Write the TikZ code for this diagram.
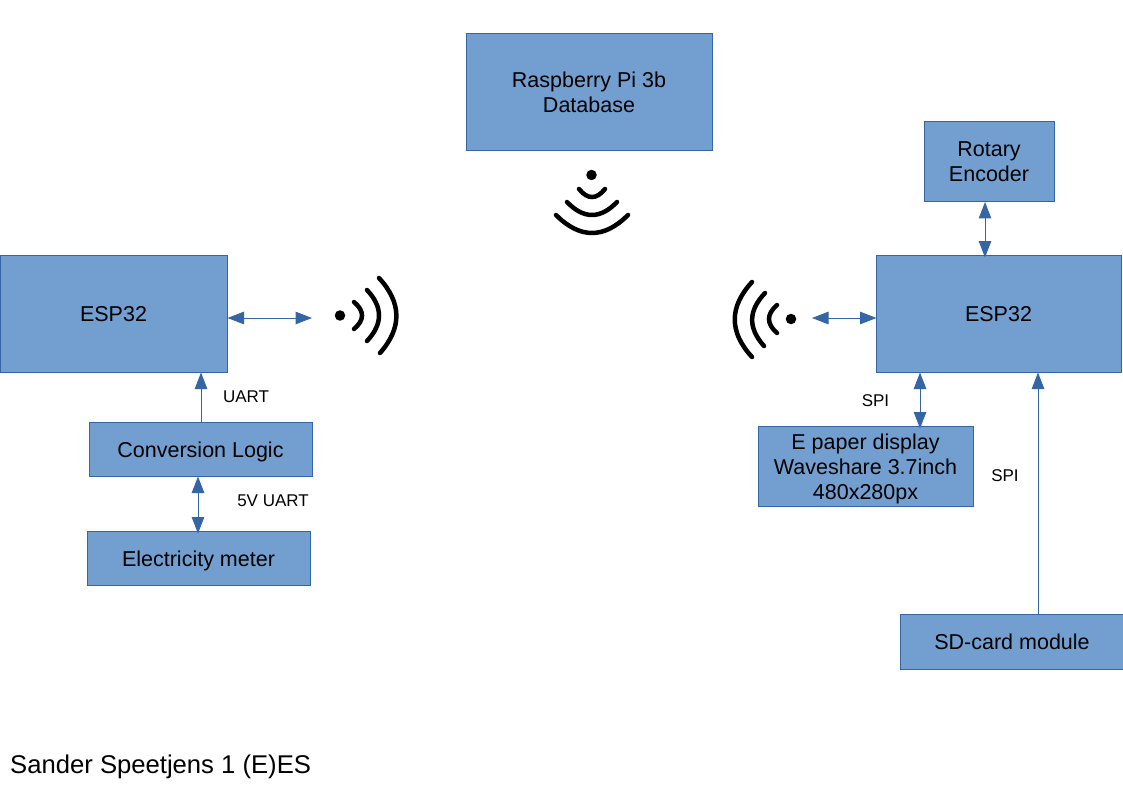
\documentclass[tikz,border=0pt]{standalone}
\usepackage{fontspec}
\setmainfont{Liberation Sans}
\usetikzlibrary{arrows.meta}

\begin{document}
\begin{tikzpicture}[
	x=1pt, y=-1pt,
	blockbox/.style={draw=linkblue, fill=boxblue, line width=1pt, align=center, inner sep=0pt, text=black, font=\fontsize{21.5}{25}\selectfont},
	oneline/.style={text height=16pt, text depth=0pt},
	linklabel/.style={inner sep=0pt, font=\fontsize{17}{20}\selectfont},
	wavearc/.style={draw=black, line width=4.5pt, line cap=round},
	wavedot/.style={circle, fill=black, inner sep=0pt, minimum size=10.5pt},
	link/.style={draw=linkblue, line width=1pt},
	>={Triangle[length=16.5pt,width=12.5pt]}]
	\definecolor{boxblue}{HTML}{729FCF}
	\definecolor{linkblue}{HTML}{3465A4}
	\useasboundingbox (0,0) rectangle (1123,794);

	% Blocks
	\node[blockbox, minimum width=246pt, minimum height=116.5pt] (pi) at (589,92) {Raspberry Pi 3b\\Database};
	\node[blockbox, minimum width=130pt, minimum height=80pt] (rotary) at (989,161.5) {Rotary\\Encoder};
	\node[blockbox, oneline, minimum width=227pt, minimum height=117pt] (espleft) at (113.5,313.5) {ESP32};
	\node[blockbox, oneline, minimum width=245pt, minimum height=117pt] (espright) at (998.5,313.5) {ESP32};
	\node[blockbox, oneline, minimum width=223pt, minimum height=54pt] (conversion) at (200.5,449) {Conversion Logic};
	\node[blockbox, oneline, minimum width=223pt, minimum height=54pt] (meter) at (198.5,558) {Electricity meter};
	\node[blockbox, minimum width=215pt, minimum height=80pt] (epaper) at (865.5,466) {\rule{0pt}{21pt}E paper display\\Waveshare 3.7inch\\480x280px};
	\node[blockbox, oneline, minimum width=224pt, minimum height=55pt] (sdcard) at (1012,641.5) {SD-card module};

	% Labels
	\node[linklabel] (uartlabel) at (246,397) {UART};
	\node[linklabel] (meterlabel) at (273,501) {5V UART};
	\node[linklabel] (spilabel) at (875.5,401) {SPI};
	\node[linklabel] (sdlabel) at (1005,476) {SPI};
	\node[anchor=west, inner sep=0pt, font=\fontsize{25.65}{30}\selectfont] (credit) at (10,766.5) {Sander Speetjens 1 (E)ES};

	% Wireless signs
	\node[wavedot] (dottop) at (591.5,175) {};
	\draw[wavearc] (579,189) .. controls (587.7,199.7) and (596.3,199.7) .. (605,189);
	\draw[wavearc] (567,202) .. controls (583.7,219.3) and (600.3,219.3) .. (617,202);
	\draw[wavearc] (556,215) .. controls (580,239) and (604,239) .. (628,215);

	\node[wavedot] (dotleft) at (340,315.5) {};
	\draw[wavearc] (354,302) .. controls (364.7,311) and (364.7,320) .. (354,329);
	\draw[wavearc] (367,290) .. controls (383,307) and (383,324) .. (367,341);
	\draw[wavearc] (379,278) .. controls (402,303) and (402,328) .. (380,353);

	\node[wavedot] (dotright) at (791,319) {};
	\draw[wavearc] (777,305) .. controls (766.3,314.3) and (766.3,323.7) .. (777,333);
	\draw[wavearc] (765,293) .. controls (748,311) and (748,328) .. (764,346);
	\draw[wavearc] (752,282) .. controls (729,307) and (729,332) .. (752,357);

	% Connections
	\coordinate (airleft) at (312,318);
	\coordinate (airright) at (812,318);
	\draw[link, <->] (espleft.east |- airleft) -- (airleft);
	\draw[link, <->, shorten >=-1pt] (airright) -- (espright.west |- airright);
	\draw[link, ->] (conversion.north -| 201,0) -- (espleft.south -| 201,0);
	\draw[link, <->, shorten >=-3pt] (conversion.south -| 198,0) -- (meter.north -| 198,0);
	\draw[link, <->, shorten >=-3pt] (rotary.south -| 985,0) -- (espright.north -| 985,0);
	\draw[link, <->, shorten >=-3pt] (espright.south -| 920,0) -- (epaper.north -| 920,0);
	\draw[link, ->] (sdcard.north -| 1038,0) -- (espright.south -| 1038,0);
\end{tikzpicture}
\end{document}
